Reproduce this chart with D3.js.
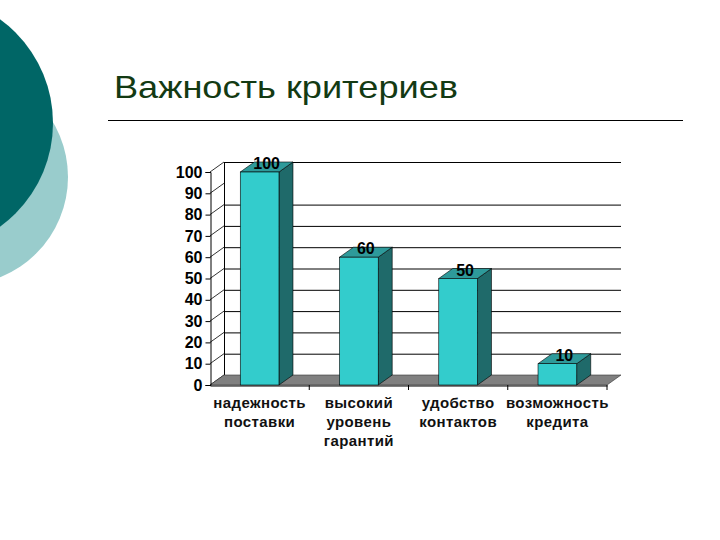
<!DOCTYPE html>
<html>
<head>
<meta charset="utf-8">
<script src="https://cdn.jsdelivr.net/npm/d3@7"></script>
<style>
  body { margin: 0; background: #fff; }
  svg { display: block; }
</style>
</head>
<body>
<div id="chart"></div>
<script>
// данные графика
const categories = ["надежность поставки", "высокий уровень гарантий", "удобство контактов", "возможность кредита"];
const categoryLines = [["надежность", "поставки"], ["высокий", "уровень", "гарантий"], ["удобство", "контактов"], ["возможность", "кредита"]];
const values = [100, 60, 50, 10];
const yTicks = [0, 10, 20, 30, 40, 50, 60, 70, 80, 90, 100];
const gridTicks = [10, 20, 30, 40, 50, 60, 70, 80, 100]; // линии 90 на картинке нет

const width = 720, height = 540;
const depthX = 14, depthY = -10; // смещение 3D
const font = "Arial, 'Liberation Sans', sans-serif";

const svg = d3.select("#chart").append("svg")
  .attr("width", width)
  .attr("height", height);

// декоративные круги слева
svg.append("circle")
  .attr("cx", -40).attr("cy", 177).attr("r", 108)
  .attr("fill", "#99cccc");
svg.append("circle")
  .attr("cx", -75).attr("cy", 123).attr("r", 128)
  .attr("fill", "#006666");

// заголовок
svg.append("text")
  .attr("x", 114)
  .attr("y", 98)
  .attr("textLength", 344)
  .attr("lengthAdjust", "spacingAndGlyphs")
  .style("font-family", font)
  .style("font-size", "32px")
  .attr("fill", "#133a13")
  .text("Важность критериев");

svg.append("line")
  .attr("x1", 108).attr("x2", 683)
  .attr("y1", 120.5).attr("y2", 120.5)
  .attr("stroke", "#000")
  .attr("stroke-width", 1);

// шкалы
const x = d3.scaleBand()
  .domain(categories)
  .range([210, 607]);

const y = d3.scaleLinear()
  .domain([0, 100])
  .range([385, 172]);

const barW = x.bandwidth() * 0.39;
const plot = svg.append("g");

// задняя стенка: линии сетки
plot.selectAll(".grid")
  .data(gridTicks)
  .enter().append("line")
  .attr("x1", 210 + depthX).attr("x2", 607 + depthX)
  .attr("y1", d => y(d) + depthY + 0.5)
  .attr("y2", d => y(d) + depthY + 0.5)
  .attr("stroke", "#000");

// левая стенка: вертикаль и диагонали
plot.append("line")
  .attr("x1", 210 + depthX + 0.5).attr("x2", 210 + depthX + 0.5)
  .attr("y1", y(100) + depthY).attr("y2", y(0) + depthY)
  .attr("stroke", "#000");

plot.selectAll(".diag")
  .data(yTicks)
  .enter().append("line")
  .attr("x1", 210).attr("y1", d => y(d))
  .attr("x2", 210 + depthX).attr("y2", d => y(d) + depthY)
  .attr("stroke", "#000")
  .attr("stroke-width", 0.8);

// пол
plot.append("polygon")
  .attr("points", [
    [210, y(0)], [607, y(0)],
    [607 + depthX, y(0) + depthY], [210 + depthX, y(0) + depthY]
  ].map(p => p.join(",")).join(" "))
  .attr("fill", "#808080")
  .attr("stroke", "#333")
  .attr("stroke-width", 0.6);

// ось Y
const yAxis = d3.axisLeft(y)
  .tickValues(yTicks)
  .tickSize(5)
  .tickPadding(3);

const yAxisG = plot.append("g")
  .attr("transform", "translate(210.5,0)")
  .call(yAxis);
yAxisG.select(".domain").attr("stroke", "#000");
yAxisG.selectAll("text")
  .style("font-family", font)
  .style("font-size", "16px")
  .style("font-weight", "bold")
  .attr("fill", "#000");

// ось X
const xAxis = d3.axisBottom(x)
  .tickSize(0)
  .tickFormat("");
const xAxisG = plot.append("g")
  .attr("transform", `translate(0,${y(0) + 0.5})`)
  .call(xAxis);
xAxisG.select(".domain").attr("stroke", "#000");

// засечки между категориями
plot.selectAll(".xtick")
  .data(categories)
  .enter().append("line")
  .attr("x1", d => x(d) + x.bandwidth())
  .attr("x2", d => x(d) + x.bandwidth())
  .attr("y1", y(0)).attr("y2", y(0) + 5)
  .attr("stroke", "#000");

// подписи категорий
const labels = plot.selectAll(".xlabel")
  .data(categories)
  .enter().append("text")
  .attr("x", d => x(d) + x.bandwidth() / 2)
  .attr("y", 408)
  .attr("text-anchor", "middle")
  .style("font-family", font)
  .style("font-size", "15px")
  .style("font-weight", "bold")
  .style("letter-spacing", "0.4px")
  .attr("fill", "#111");

labels.each(function(d, i) {
  const t = d3.select(this);
  categoryLines[i].forEach((line, k) => {
    t.append("tspan")
      .attr("x", x(d) + x.bandwidth() / 2)
      .attr("dy", k === 0 ? 0 : 19)
      .text(line);
  });
});

// столбцы
const bar = plot.selectAll(".bar")
  .data(values)
  .enter().append("g");

const x0 = (d, i) => x(categories[i]) + (x.bandwidth() - barW) / 2;
const x1 = (d, i) => x0(d, i) + barW;

bar.append("polygon") // боковая грань
  .attr("points", (d, i) => [
    [x1(d, i), y(d)], [x1(d, i) + depthX, y(d) + depthY],
    [x1(d, i) + depthX, y(0) + depthY], [x1(d, i), y(0)]
  ].map(p => p.join(",")).join(" "))
  .attr("fill", "#1f6a6a")
  .attr("stroke", "#000")
  .attr("stroke-width", 0.6);

bar.append("polygon") // верхняя грань
  .attr("points", (d, i) => [
    [x0(d, i), y(d)], [x0(d, i) + depthX, y(d) + depthY],
    [x1(d, i) + depthX, y(d) + depthY], [x1(d, i), y(d)]
  ].map(p => p.join(",")).join(" "))
  .attr("fill", "#2e9a9a")
  .attr("stroke", "#000")
  .attr("stroke-width", 0.6);

bar.append("rect") // передняя грань
  .attr("x", (d, i) => x0(d, i))
  .attr("y", d => y(d))
  .attr("width", barW)
  .attr("height", d => y(0) - y(d))
  .attr("fill", "#33cccc")
  .attr("stroke", "#000")
  .attr("stroke-width", 0.6);

// значения над столбцами
bar.append("text")
  .attr("x", (d, i) => x(categories[i]) + x.bandwidth() / 2 + depthX / 2)
  .attr("y", d => y(d) - 3)
  .attr("text-anchor", "middle")
  .style("font-family", font)
  .style("font-size", "16px")
  .style("font-weight", "bold")
  .attr("fill", "#000")
  .text(d => d);
</script>
</body>
</html>
